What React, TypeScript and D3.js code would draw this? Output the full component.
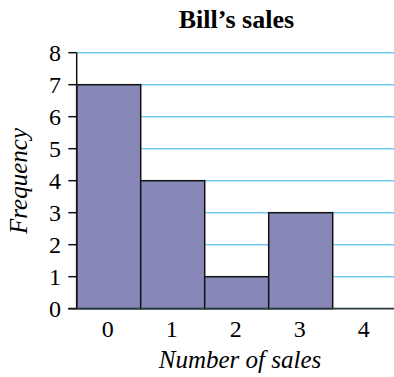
import React from "react";
import * as d3 from "d3";

const categories = [0, 1, 2, 3, 4];
const frequencies = [7, 4, 1, 3, 0];
const yTicks = [0, 1, 2, 3, 4, 5, 6, 7, 8];
const title = "Bill’s sales";
const xTitle = "Number of sales";
const yTitle = "Frequency";

const W = 394;
const H = 377;
const left = 76.7;
const bottom = 308.7;
const top = 52.7;

export default function App() {
  const x = d3.scaleLinear().domain([0, 5]).range([left, left + 320]);
  const y = d3.scaleLinear().domain([0, 8]).range([bottom, top]);
  const fs = { fontFamily: '"Liberation Serif", "Times New Roman", serif' };
  return (
    <svg
      width={W}
      height={H}
      style={{ position: "absolute", left: 0, top: 0, background: "#fff" }}
    >
      <text x={236.4} y={28.3} textAnchor="middle" fontWeight="bold" fontSize={26} style={fs}>
        {title}
      </text>
      {yTicks.slice(1).map((t) => (
        <line key={"g" + t} x1={left} x2={W} y1={y(t)} y2={y(t)} stroke="#6fd0f2" strokeWidth={1.5} />
      ))}
      {categories.map((c, i) => (
        <rect
          key={"b" + c}
          x={x(c)}
          y={y(frequencies[i])}
          width={x(c + 1) - x(c)}
          height={bottom - y(frequencies[i])}
          fill="#8787b8"
          stroke="#111"
          strokeWidth={1.5}
        />
      ))}
      <line x1={left} x2={left} y1={top} y2={bottom} stroke="#111" strokeWidth={1.5} />
      <line x1={68.3} x2={W} y1={bottom} y2={bottom} stroke="#2a3a40" strokeWidth={1.8} />
      {yTicks.map((t) => (
        <g key={"t" + t}>
          <line x1={68.3} x2={left} y1={y(t)} y2={y(t)} stroke="#111" strokeWidth={1.5} />
          <text x={61} y={y(t)} dy="0.34em" textAnchor="end" fontSize={24} style={fs}>
            {t}
          </text>
        </g>
      ))}
      {categories.map((c) => (
        <text key={"x" + c} x={x(c + 0.5) - 1} y={337} textAnchor="middle" fontSize={24} style={fs}>
          {c}
        </text>
      ))}
      <text x={240} y={368.3} textAnchor="middle" fontStyle="italic" fontSize={25} style={fs}>
        {xTitle}
      </text>
      <text
        transform={`translate(27,181) rotate(-90)`}
        textAnchor="middle"
        fontStyle="italic"
        fontSize={25}
        style={fs}
      >
        {yTitle}
      </text>
    </svg>
  );
}
